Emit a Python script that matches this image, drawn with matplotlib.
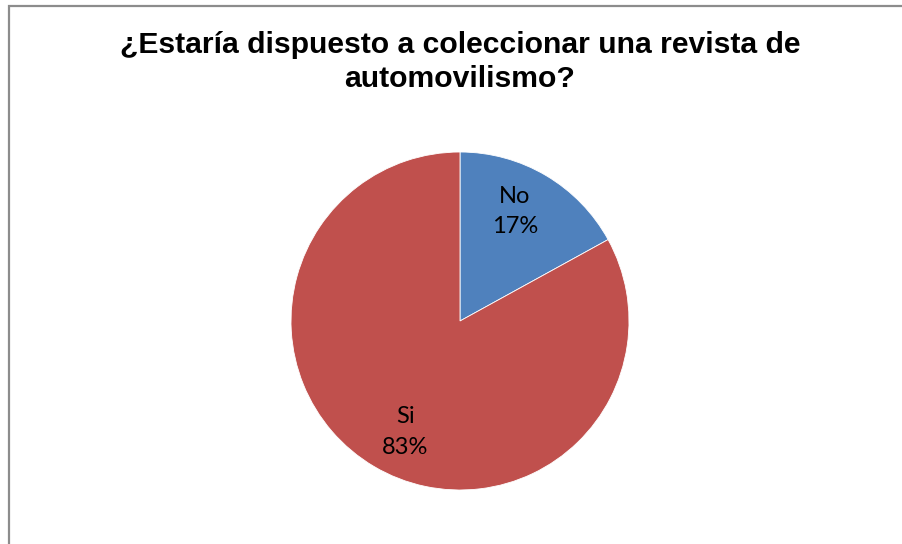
import matplotlib
matplotlib.use("Agg")
import matplotlib.pyplot as plt
from matplotlib.patches import Rectangle

title = "¿Estaría dispuesto a coleccionar una revista de\nautomovilismo?"
categories = ["No", "Si"]
values = [17, 83]
colors = ["#4F81BD", "#C0504D"]

W, H = 902, 544
fig = plt.figure(figsize=(W / 100, H / 100), dpi=100)
fig.patch.set_facecolor("white")

# chart frame (open to the right and bottom)
fig.add_artist(Rectangle((8.5 / W, -0.1), 1.2, (H - 5.5) / H + 0.1,
                         transform=fig.transFigure, fill=False,
                         edgecolor="#8c8c8c", linewidth=1.6))

fig.text(460 / W, 1 - 62 / H, title, ha="center", va="center",
         fontsize=21.7, fontweight="bold", family="Liberation Sans",
         linespacing=1.26)

cx, cy, r = 460, 321, 169
ax = fig.add_axes([(cx - r) / W, (H - cy - r) / H, 2 * r / W, 2 * r / H])
wedges, _ = ax.pie(values, colors=colors, startangle=90, counterclock=False,
                   radius=1.0, wedgeprops=dict(edgecolor="white", linewidth=0.6))
ax.set_xlim(-1, 1)
ax.set_ylim(-1, 1)
ax.set_aspect("equal")
ax.axis("off")

total = sum(values)
label_pos = [(0.325, 0.648), (-0.325, -0.657)]
for cat, v, (x, y) in zip(categories, values, label_pos):
    ax.text(x, y, f"{cat}\n{round(v / total * 100)}%", ha="center", va="center",
            fontsize=17, family="Lato", linespacing=1.55, color="black")

fig.savefig("out.png", dpi=100)
